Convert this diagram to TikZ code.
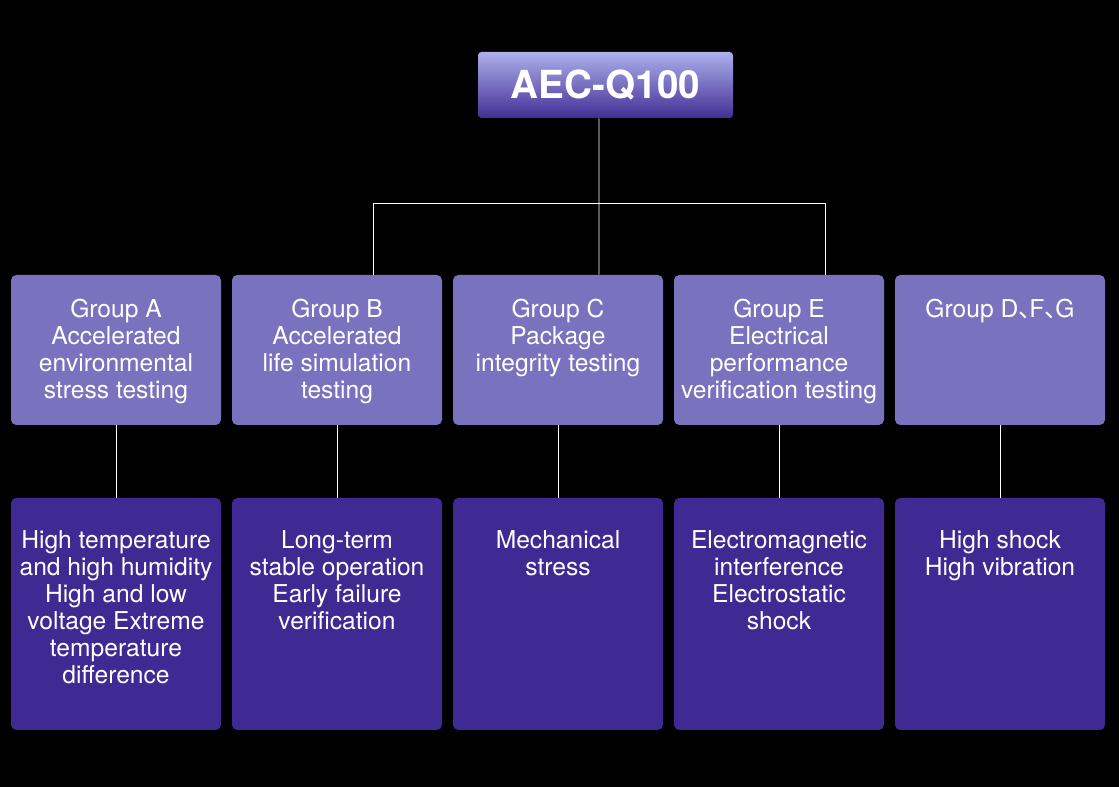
\documentclass[tikz,border=0pt]{standalone}
\usepackage{fontspec}
\setmainfont{TeX Gyre Heros}
\newfontfamily\cjk{Noto Sans CJK SC}
\definecolor{grpfill}{RGB}{121,114,190}
\definecolor{itemfill}{RGB}{62,42,146}
\definecolor{headtop}{RGB}{172,176,236}
\definecolor{headbot}{RGB}{66,46,148}
\newcommand{\grptext}[1]{\parbox[c][3cm][t]{4.2cm}{\centering\rule{0pt}{0.86cm}#1}}
\newcommand{\itemtext}[1]{\parbox[c][4.64cm][t]{4.2cm}{\centering\rule{0pt}{1.02cm}#1}}
\newcommand{\dunhao}{\makebox[0.45em][l]{\cjk 、}}

\begin{document}
\begin{tikzpicture}[font=\fontsize{14}{15.3}\selectfont,text=white,head/.style={rounded corners=2pt,minimum width=5.1cm,minimum height=1.32cm,top color=headtop,bottom color=headbot,font=\fontsize{22}{24}\selectfont\bfseries},grp/.style={fill=grpfill,rounded corners=3pt,inner sep=0pt,minimum width=4.2cm,minimum height=3cm},item/.style={fill=itemfill,rounded corners=3pt,inner sep=0pt,minimum width=4.2cm,minimum height=4.64cm},link/.style={draw=white,line width=0.5pt}]
\fill[black] (0,0) rectangle (22.38,15.74);
\useasboundingbox (0,0) rectangle (22.38,15.74);
\node[head] (top) at (12.11,14.04) {AEC-Q100};
\node[grp] (gA) at (2.32,8.74) {\grptext{Group A\\Accelerated\\environmental\\stress testing}};
\node[grp] (gB) at (6.74,8.74) {\grptext{Group B\\Accelerated\\life simulation\\testing}};
\node[grp] (gC) at (11.16,8.74) {\grptext{Group C\\Package\\integrity testing}};
\node[grp] (gE) at (15.58,8.74) {\grptext{Group E\\Electrical\\performance\\verification testing}};
\node[grp] (gD) at (20.0,8.74) {\grptext{Group D\dunhao F\dunhao G}};
\node[item] (iA) at (2.32,3.46) {\itemtext{High temperature\\and high humidity\\High and low\\voltage Extreme\\temperature\\difference}};
\node[item] (iB) at (6.74,3.46) {\itemtext{Long-term\\stable operation\\Early failure\\verification}};
\node[item] (iC) at (11.16,3.46) {\itemtext{Mechanical\\stress}};
\node[item] (iE) at (15.58,3.46) {\itemtext{Electromagnetic\\interference\\Electrostatic\\shock}};
\node[item] (iD) at (20.0,3.46) {\itemtext{High shock\\High vibration}};
% tree lines
\coordinate (jB) at (7.46,11.68);
\coordinate (jE) at (16.5,11.68);
\draw[link] ([xshift=-0.13cm]top.south) -- ([xshift=0.82cm]gC.north);
\draw[link] (jB) -- (jE);
\draw[link] (jB) -- (jB |- gB.north);
\draw[link] (jE) -- (jE |- gE.north);
\draw[link] (gA) -- (iA);
\draw[link] (gB) -- (iB);
\draw[link] (gC) -- (iC);
\draw[link] (gE) -- (iE);
\draw[link] (gD) -- (iD);
\end{tikzpicture}
\end{document}
